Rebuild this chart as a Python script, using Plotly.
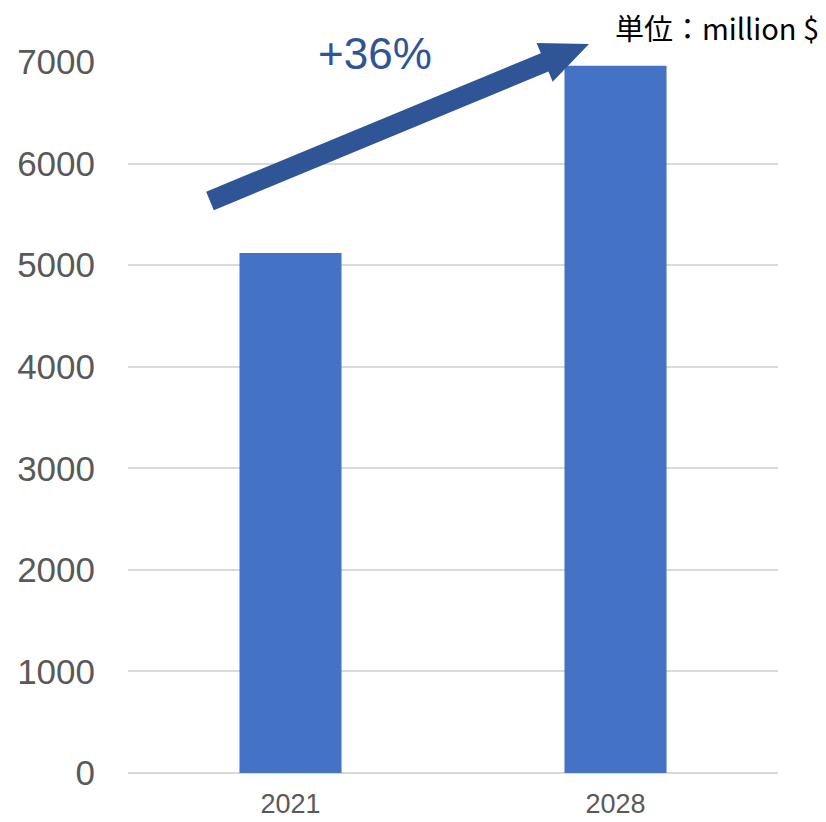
import plotly.graph_objects as go
import math

years = ["2021", "2028"]
values = [5120, 6962]
y_ticks = [0, 1000, 2000, 3000, 4000, 5000, 6000, 7000]
growth_label = "+36%"
unit_label = "単位：million $"

W, H = 826, 822
L, R, T, B = 128, 48, 62, 49
pw, ph = W - L - R, H - T - B

def to_paper(px, py):
    return (px - L) / pw, (H - B - py) / ph

# arrow geometry in pixels
tail = (210, 201)
tip = (589, 44)
dx, dy = tip[0] - tail[0], tip[1] - tail[1]
ln = math.hypot(dx, dy)
ux, uy = dx / ln, dy / ln
nx, ny = -uy, ux
sw = 10
hl = 48
hw = 21
bx, by = tip[0] - ux * hl, tip[1] - uy * hl
pts = [
    (tail[0] + nx * sw, tail[1] + ny * sw),
    (bx + nx * sw, by + ny * sw),
    (bx + nx * hw, by + ny * hw),
    tip,
    (bx - nx * hw, by - ny * hw),
    (bx - nx * sw, by - ny * sw),
    (tail[0] - nx * sw, tail[1] - ny * sw),
]
path = "M " + " L ".join(f"{to_paper(*p)[0]:.5f},{to_paper(*p)[1]:.5f}" for p in pts) + " Z"

fig = go.Figure(go.Bar(x=years, y=values, marker=dict(color="#4472C4", line=dict(width=0)), width=0.314))

fig.update_layout(
    width=W, height=H,
    margin=dict(l=L, r=R, t=T, b=B, pad=0),
    paper_bgcolor="white", plot_bgcolor="white",
    showlegend=False,
    font=dict(family="Liberation Sans, Arial, sans-serif", color="#595959"),
    xaxis=dict(type="category", showgrid=False, showline=False, ticks="", automargin=False,
               tickfont=dict(size=27, color="#595959"), ticklabelstandoff=12),
    yaxis=dict(range=[0, 7000], tickvals=y_ticks, showgrid=True, gridcolor="#D9D9D9",
               gridwidth=1.5, zeroline=True, zerolinecolor="#D9D9D9", zerolinewidth=1.5,
               showline=False, ticks="", automargin=False,
               tickfont=dict(size=35, color="#595959"),
               ticklabelstandoff=32),
    shapes=[dict(type="path", path=path, xref="paper", yref="paper",
                 fillcolor="#2F5597", line=dict(width=0), layer="above")],
    annotations=[
        dict(text=growth_label, x=to_paper(375, 54)[0], y=to_paper(375, 54)[1],
             xref="paper", yref="paper", showarrow=False,
             font=dict(size=44, color="#2F5597", family="Liberation Sans, Arial, sans-serif"),
             xanchor="center", yanchor="middle"),
        dict(text=unit_label, x=to_paper(821, 27)[0], y=to_paper(821, 27)[1],
             xref="paper", yref="paper", showarrow=False,
             font=dict(size=29, color="#000000", family="Noto Sans CJK JP, sans-serif"),
             xanchor="right", yanchor="middle"),
    ],
)

fig.write_html("out.html")
